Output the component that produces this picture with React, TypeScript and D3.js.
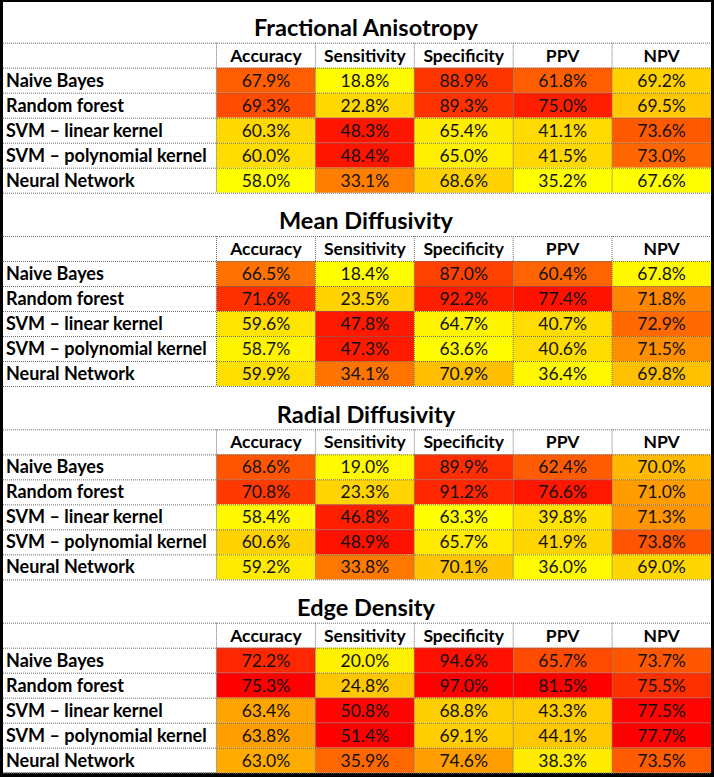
import React from "react";
import * as d3 from "d3";

const blockTitles = ["Fractional Anisotropy", "Mean Diffusivity", "Radial Diffusivity", "Edge Density"];
const metrics = ["Accuracy", "Sensitivity", "Specificity", "PPV", "NPV"];
const models = ["Naive Bayes", "Random forest", "SVM – linear kernel", "SVM – polynomial kernel", "Neural Network"];

const faValues = [
  [67.9, 18.8, 88.9, 61.8, 69.2],
  [69.3, 22.8, 89.3, 75.0, 69.5],
  [60.3, 48.3, 65.4, 41.1, 73.6],
  [60.0, 48.4, 65.0, 41.5, 73.0],
  [58.0, 33.1, 68.6, 35.2, 67.6],
];
const mdValues = [
  [66.5, 18.4, 87.0, 60.4, 67.8],
  [71.6, 23.5, 92.2, 77.4, 71.8],
  [59.6, 47.8, 64.7, 40.7, 72.9],
  [58.7, 47.3, 63.6, 40.6, 71.5],
  [59.9, 34.1, 70.9, 36.4, 69.8],
];
const rdValues = [
  [68.6, 19.0, 89.9, 62.4, 70.0],
  [70.8, 23.3, 91.2, 76.6, 71.0],
  [58.4, 46.8, 63.3, 39.8, 71.3],
  [60.6, 48.9, 65.7, 41.9, 73.8],
  [59.2, 33.8, 70.1, 36.0, 69.0],
];
const edValues = [
  [72.2, 20.0, 94.6, 65.7, 73.7],
  [75.3, 24.8, 97.0, 81.5, 75.5],
  [63.4, 50.8, 68.8, 43.3, 77.5],
  [63.8, 51.4, 69.1, 44.1, 77.7],
  [63.0, 35.9, 74.6, 38.3, 73.5],
];

const blocks = [faValues, mdValues, rdValues, edValues];

const W = 714;
const H = 777;
const FONT = "Lato, 'Open Sans', sans-serif";
const GRID = "#6a6a6a";

export default function App() {
  const x = d3.scaleBand<string>().domain(metrics).range([216.5, 711]);
  const blockY = d3.scaleLinear().domain([0, 3]).range([42.7, 622.7]);
  const rowY = d3.scaleBand<string>().domain(["header", ...models]).range([0, 150]);

  // one colour scale per metric, over all four blocks
  const colorScales = metrics.map((_, j) => {
    const vals = blocks.flatMap((b) => b.map((r) => r[j]));
    const [mn, mx] = d3.extent(vals) as [number, number];
    return d3
      .scaleLinear<string>()
      .domain([mn, (mn + mx) / 2, mx])
      .range(["#FFFF00", "#FF6E00", "#FF0000"])
      .interpolate(d3.interpolateRgb);
  });

  const xLeft = 3;
  const xRight = 711;

  return (
    <div style={{ position: "absolute", left: 0, top: 0 }}>
      <svg width={W} height={H} style={{ display: "block" }}>
        <rect x={0} y={0} width={W} height={H} fill="#000" />
        <rect x={xLeft} y={2} width={xRight - xLeft} height={772.7 - 2} fill="#fff" />
        {blocks.map((vals, bi) => {
          const y0 = blockY(bi);
          const bw = rowY.bandwidth();
          return (
            <g key={bi}>
              <text
                x={366}
                y={y0 - 6.7}
                textAnchor="middle"
                fontFamily={FONT}
                fontWeight={700}
                fontSize={23.5}
                fill="#000"
              >
                {blockTitles[bi]}
              </text>
              {vals.map((row, ri) =>
                row.map((v, ci) => (
                  <rect
                    key={`c${ri}-${ci}`}
                    x={x(metrics[ci])!}
                    y={y0 + rowY(models[ri])!}
                    width={x.bandwidth()}
                    height={bw}
                    fill={colorScales[ci](v)}
                  />
                ))
              )}
              {metrics.map((m) => (
                <text
                  key={m}
                  x={x(m)! + x.bandwidth() / 2}
                  y={y0 + rowY("header")! + 19}
                  textAnchor="middle"
                  fontFamily={FONT}
                  fontWeight={700}
                  fontSize={17.5}
                  fill="#000"
                >
                  {m}
                </text>
              ))}
              {models.map((m) => (
                <text
                  key={m}
                  x={6}
                  y={y0 + rowY(m)! + 19}
                  fontFamily={FONT}
                  fontWeight={700}
                  fontSize={18}
                  fill="#000"
                >
                  {m}
                </text>
              ))}
              {vals.map((row, ri) =>
                row.map((v, ci) => (
                  <text
                    key={`t${ri}-${ci}`}
                    x={x(metrics[ci])! + x.bandwidth() / 2}
                    y={y0 + rowY(models[ri])! + 19}
                    textAnchor="middle"
                    fontFamily={FONT}
                    fontSize={17.5}
                    fill="#111"
                  >
                    {v.toFixed(1)}%
                  </text>
                ))
              )}
              {["header", ...models].map((r) => (
                <line
                  key={`h${r}`}
                  x1={xLeft}
                  x2={xRight}
                  y1={y0 + rowY(r)! + 0.5}
                  y2={y0 + rowY(r)! + 0.5}
                  stroke={GRID}
                  strokeWidth={1}
                  strokeDasharray="1,1"
                />
              ))}
              <line
                x1={xLeft}
                x2={xRight}
                y1={y0 + 150 + 0.5}
                y2={y0 + 150 + 0.5}
                stroke={GRID}
                strokeWidth={1}
                strokeDasharray="1,1"
              />
              {metrics.map((m) => (
                <line
                  key={`v${m}`}
                  x1={x(m)!}
                  x2={x(m)!}
                  y1={y0}
                  y2={y0 + 150}
                  stroke={GRID}
                  strokeWidth={1}
                  strokeDasharray="1,1"
                />
              ))}
            </g>
          );
        })}
      </svg>
    </div>
  );
}
